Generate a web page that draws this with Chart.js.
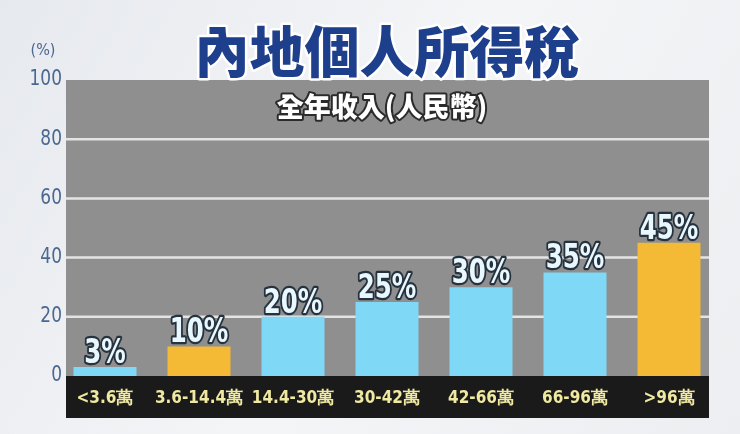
<!DOCTYPE html>
<html>
<head>
<meta charset="utf-8">
<script src="https://cdn.jsdelivr.net/npm/chart.js@4/dist/chart.umd.min.js"></script>
<style>
  html, body { margin: 0; padding: 0; background: #eef0f3; }
  #wrap { width: 740px; height: 434px; position: relative; }
</style>
</head>
<body>
<div id="wrap"><canvas id="myChart" width="740" height="434"></canvas></div>
<script>
// dati del grafico
var categories = ["<3.6萬", "3.6-14.4萬", "14.4-30萬", "30-42萬", "42-66萬", "66-96萬", ">96萬"];
var rates = [3, 10, 20, 25, 30, 35, 45];
var yTicks = [0, 20, 40, 60, 80, 100];
var titleText = "內地個人所得稅";
var subtitleText = "全年收入(人民幣)";
var unitText = "(%)";

var BLUE = "#7fd8f6";
var ORANGE = "#f4ba35";
var barColors = rates.map(function(v, i) {
  return (i == 1 || i == 6) ? ORANGE : BLUE;
});

var numFont = "'Liberation Sans Narrow', 'DejaVu Sans Condensed', 'DejaVu Sans', sans-serif";
var cjkFont = "'Noto Sans CJK TC', 'Noto Sans CJK SC', sans-serif";

function outlined(ctx, text, x, y, fill, stroke, lw) {
  ctx.lineJoin = "round";
  ctx.lineWidth = lw;
  ctx.strokeStyle = stroke;
  ctx.strokeText(text, x, y);
  ctx.fillStyle = fill;
  ctx.fillText(text, x, y);
}

var backdrop = {
  id: "backdrop",
  beforeDraw: function(chart) {
    var ctx = chart.ctx;
    var a = chart.chartArea;
    ctx.save();
    var g = ctx.createLinearGradient(0, 0, 740, 434);
    g.addColorStop(0, "#e6e9ee");
    g.addColorStop(0.5, "#f4f5f7");
    g.addColorStop(1, "#eceef1");
    ctx.fillStyle = g;
    ctx.fillRect(0, 0, 740, 434);
    // area grigia e banda nera
    ctx.fillStyle = "#8f8f8f";
    ctx.fillRect(a.left + 8, a.top, a.right - a.left - 15, a.bottom - a.top);
    ctx.fillStyle = "#1a1a1a";
    ctx.fillRect(a.left + 8, a.bottom, a.right - a.left - 15, 42);
    ctx.restore();
  },
  beforeDatasetsDraw: function(chart) {
    // griglia e etichette asse y
    var ctx = chart.ctx;
    var a = chart.chartArea;
    var y = chart.scales.y;
    ctx.save();
    ctx.strokeStyle = "#e4e4e4";
    ctx.lineWidth = 2.5;
    ctx.textAlign = "right";
    ctx.textBaseline = "middle";
    ctx.fillStyle = "#4a6890";
    ctx.font = "21px " + numFont;
    yTicks.forEach(function(v) {
      var py = y.getPixelForValue(v);
      if (v > 0 && v < 100) {
        ctx.beginPath();
        ctx.moveTo(a.left + 8, py);
        ctx.lineTo(a.right - 7, py);
        ctx.stroke();
      }
      ctx.save();
      ctx.translate(62, py);
      ctx.scale(0.9, 1);
      ctx.fillText(String(v), 0, 0);
      ctx.restore();
    });
    ctx.restore();
  },
  afterDraw: function(chart) {
    var ctx = chart.ctx;
    ctx.save();
    ctx.textAlign = "center";
    ctx.textBaseline = "middle";
    ctx.font = "900 55px " + cjkFont;
    outlined(ctx, titleText, 387, 51, "#1e3f8c", "#ffffff", 5);
    ctx.font = "900 27px " + cjkFont;
    outlined(ctx, subtitleText, 382, 107, "#ffffff", "#2b2b2b", 4);
    ctx.font = "16px " + numFont;
    ctx.fillStyle = "#4a6890";
    ctx.fillText(unitText, 43, 51);
    ctx.restore();
  },
  afterDatasetsDraw: function(chart) {
    var ctx = chart.ctx;
    var meta = chart.getDatasetMeta(0);
    ctx.save();
    ctx.textAlign = "center";
    ctx.textBaseline = "alphabetic";
    ctx.font = "bold 34px " + numFont;
    meta.data.forEach(function(bar, i) {
      ctx.save();
      ctx.translate(bar.x, bar.y - 4);
      ctx.scale(0.8, 1);
      outlined(ctx, rates[i] + "%", 0, 0, "#e9f8ff", "#26323e", 4.5);
      ctx.restore();
    });
    ctx.restore();
  }
};

var ctx = document.getElementById('myChart').getContext('2d');
var chart = new Chart(ctx, {
  type: 'bar',
  data: {
    labels: categories,
    datasets: [{
      data: rates,
      backgroundColor: barColors,
      borderWidth: 0,
      barPercentage: 0.67,
      categoryPercentage: 1
    }]
  },
  options: {
    responsive: false,
    animation: false,
    layout: { padding: { top: 80, right: 24, left: 0, bottom: 0 } },
    plugins: {
      legend: { display: false },
      tooltip: { enabled: false }
    },
    scales: {
      x: {
        grid: { display: false, drawTicks: false },
        border: { display: false },
        ticks: {
          color: "#f0e9a2",
          padding: 12,
          maxRotation: 0,
          autoSkip: false,
          font: { family: numFont, size: 17, weight: "bold" }
        },
        afterFit: function(s) { s.height = 58; }
      },
      y: {
        min: 0,
        max: 100,
        grid: { display: false, drawTicks: false },
        border: { display: false },
        ticks: { display: false },
        afterFit: function(s) { s.width = 58; }
      }
    }
  },
  plugins: [backdrop]
});
</script>
</body>
</html>
